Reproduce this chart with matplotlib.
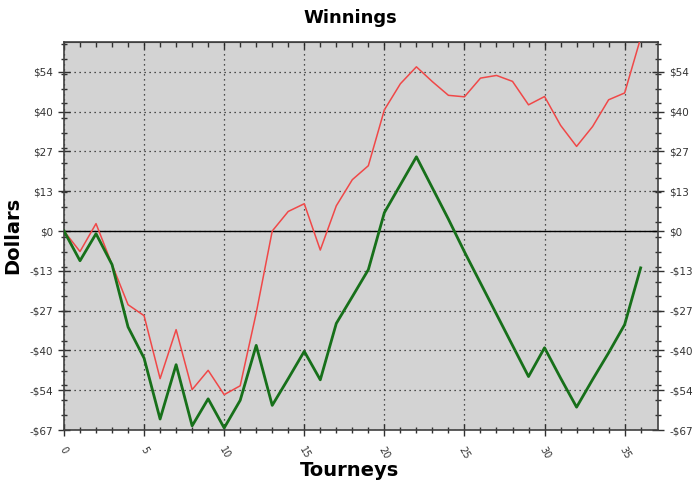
import numpy as np
import matplotlib.pyplot as plt
from matplotlib.ticker import FixedLocator, NullFormatter

# tourney number and running totals
tourneys = list(range(37))
winnings_red = [0, -6.9, 2.5, -11.3, -24.8, -28.5, -49.7, -33.2, -53.4, -46.9,
                -55.1, -52.1, -27.6, 0, 6.6, 9.2, -6.4, 8.5, 17.3, 22.0,
                40.8, 49.6, 55.3, 50.3, 45.7, 45.2, 51.5, 52.4, 50.4, 42.5,
                45.3, 35.6, 28.5, 35.2, 44.2, 46.5, 65.0]
winnings_green = [0, -10.0, -0.9, -11.3, -32.3, -42.8, -63.3, -45.0, -65.6, -56.5,
                  -66.3, -57.0, -38.5, -58.7, -49.7, -40.5, -50.1, -31.1, -22.1, -13.0,
                  6.2, 15.6, 25.0, 14.5, 4.0, -7.0, -17.5, -28.0, -38.5, -49.0,
                  -39.3, -49.5, -59.3, -50.0, -41.0, -31.5, -12.4]
y_ticks = [-67, -53.6, -40.2, -26.8, -13.4, 0, 13.4, 26.8, 40.2, 53.6]
x_ticks = [0, 5, 10, 15, 20, 25, 30, 35]

fig = plt.figure(figsize=(7, 4.87), dpi=100)
ax = fig.add_axes([0.0914, 0.117, 0.849, 0.797])
ax.set_facecolor('#d3d3d3')

ax.plot(tourneys, winnings_red, color='#f04848', lw=1.1, zorder=3)
ax.plot(tourneys, winnings_green, color='#17701a', lw=2.0, zorder=3)
ax.axhline(0, color='black', lw=1.0, zorder=2)

ax.set_xlim(0, 37.1)
ax.set_ylim(-67, 63.7)

def dollar(v):
    r = int(round(v))
    return '$%d' % r if r >= 0 else '-$%d' % abs(r)

ax.set_yticks(y_ticks)
ax.set_yticklabels([dollar(v) for v in y_ticks])
ax.yaxis.set_minor_locator(FixedLocator([-67 + 5 * k for k in range(27)]))
ax.set_xticks(x_ticks)
ax.set_xticklabels([str(v) for v in x_ticks], rotation=-60, fontsize=7,
                   ha='center', va='top', color='#333333')
ax.xaxis.set_minor_locator(FixedLocator(tourneys))

ax.tick_params(axis='y', which='both', direction='inout', left=True, right=True,
               labelleft=True, labelright=True, labelsize=7.5, color='#303030',
               labelcolor='#333333')
ax.tick_params(axis='y', which='major', length=9, width=1)
ax.tick_params(axis='y', which='minor', length=4.5, width=1)
ax.tick_params(axis='x', which='both', direction='inout', top=False, bottom=True,
               color='#303030')
ax.tick_params(axis='x', which='major', length=9, width=1, pad=6)
ax.tick_params(axis='x', which='minor', length=4.5, width=1)

# top ticks point inward only
top = ax.secondary_xaxis('top')
top.set_xticks(x_ticks)
top.xaxis.set_minor_locator(FixedLocator(tourneys))
top.xaxis.set_major_formatter(NullFormatter())
top.tick_params(which='major', direction='in', length=5, width=1, color='#303030')
top.tick_params(which='minor', direction='in', length=3.5, width=1, color='#303030')
top.spines['top'].set_color('#404040')

for s in ax.spines.values():
    s.set_color('#404040')
    s.set_linewidth(1.2)

ax.grid(True, which='major', color='#202020', linestyle=(0, (1, 3)), lw=0.9)

fig.text(0.5, 0.963, 'Winnings', ha='center', va='center', fontsize=13,
         fontweight='bold')
fig.text(0.5, 0.033, 'Tourneys', ha='center', va='center', fontsize=14,
         fontweight='bold')
fig.text(0.018, 0.517, 'Dollars', ha='center', va='center', fontsize=14,
         fontweight='bold', rotation=90)

fig.savefig('out.png', dpi=100)
